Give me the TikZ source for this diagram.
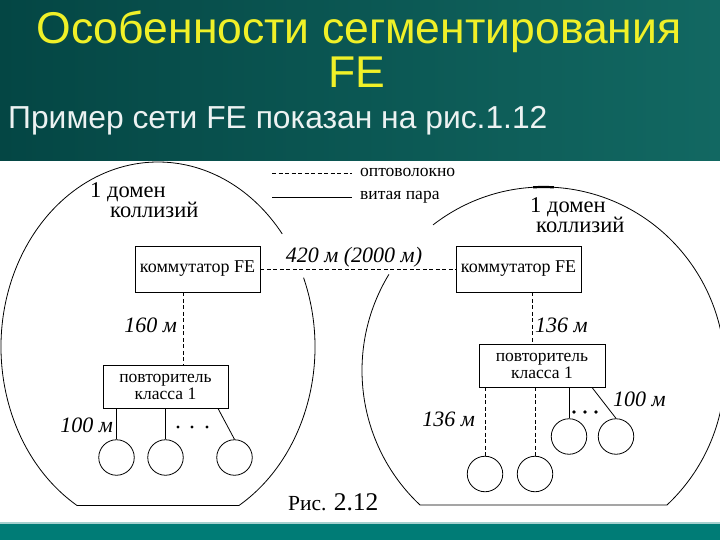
\documentclass[tikz,border=0pt]{standalone}
\usepackage{fontspec}
\setmainfont{Liberation Serif}
\newfontfamily\titlefont{Liberation Sans}
\usetikzlibrary{calc}
\definecolor{tealL}{RGB}{4,70,68}
\definecolor{tealR}{RGB}{18,104,98}
\definecolor{tealbot}{RGB}{0,124,118}
\definecolor{titleyel}{RGB}{240,240,40}
\definecolor{subwhite}{RGB}{236,242,242}
\tikzset{
  fiber/.style={dash pattern=on 4pt off 2.5pt, line width=0.8pt},
  wire/.style={line width=0.8pt},
  boxnode/.style={draw, line width=0.9pt, inner sep=0pt, font=\fontsize{18}{18}\selectfont},
  repnode/.style={boxnode, align=center, font=\fontsize{17.5}{17}\selectfont},
  station/.style={draw, circle, line width=0.8pt, minimum size=35.5pt, inner sep=0pt},
  domlabel/.style={inner sep=0pt, anchor=base west, font=\fontsize{22.5}{22.5}\selectfont},
  distlabel/.style={inner sep=0pt, font=\fontsize{22}{22}\selectfont\itshape},
  legtext/.style={inner sep=0pt, anchor=base west, font=\fontsize{17.5}{17.5}\selectfont},
}
\begin{document}
\begin{tikzpicture}[x=1pt,y=-1pt]
\useasboundingbox (0,0) rectangle (720,540);
\clip (0,0) rectangle (720,540);
% backgrounds
\shade[left color=tealL, right color=tealR] (0,0) rectangle (720,161);
\fill[white] (0,161) rectangle (720,522);
\fill[tealbot] (0,522) rectangle (720,540);
\fill[tealbot!35!white] (0,522) rectangle (720,524);
% titles
\node[inner sep=0pt, anchor=base, text=titleyel, font=\titlefont\fontsize{44.5}{44.5}\selectfont] (t1) at (359,44) {Особенности сегментирования};
\node[inner sep=0pt, anchor=base, text=titleyel, font=\titlefont\fontsize{44.5}{44.5}\selectfont] (t2) at (357,88) {FE};
\node[inner sep=0pt, anchor=base west, text=subwhite, font=\titlefont\fontsize{31.8}{31.8}\selectfont] (t3) at (8,129) {Пример сети FE показан на рис.1.12};
% diagram
\begin{scope}
\clip (0,161) rectangle (720,522);
% left domain
\draw[wire] (158,347) ++(-22:157 and 185) arc[start angle=-22, end angle=59, x radius=157, y radius=185]
  -- ($(158,347)+(121:157 and 185)$) arc[start angle=121, end angle=322.3, x radius=157, y radius=185];
% right domain
\draw[wire] (543.5,370.5) ++(232.5:181.5 and 183.5) arc[start angle=232.5, end angle=407.1, x radius=181.5, y radius=183.5]
  -- ($(543.5,370.5)+(132.9:181.5 and 183.5)$) arc[start angle=132.9, end angle=211.6, x radius=181.5, y radius=183.5];
\draw[line width=2.2pt] (543.5,370.5) ++(266.7:181.5 and 183.5) arc[start angle=266.7, end angle=273.3, x radius=181.5, y radius=183.5];
\end{scope}
% legend
\coordinate (fa) at (272,173); \coordinate (fb) at (352,173);
\coordinate (wa) at (272,197); \coordinate (wb) at (352,197);
\draw[fiber] (fa) -- (fb);
\draw[wire] (wa) -- (wb);
\node[legtext] (lf) at (360,177) {оптоволокно};
\node[legtext] (lw) at (360,200) {витая пара};
% domain labels
\node[domlabel] (d1a) at (90,198) {1 домен};
\node[domlabel] (d1b) at (110,218) {коллизий};
\node[domlabel] (d2a) at (530,212) {1 домен};
\node[domlabel] (d2b) at (536,233) {коллизий};
% switches and repeaters
\node[boxnode, minimum width=125pt, minimum height=46pt] (sw1) at (197.5,269) {коммутатор FE};
\node[boxnode, minimum width=125pt, minimum height=46pt] (sw2) at (518.5,269) {коммутатор FE};
\node[repnode, minimum width=125pt, minimum height=43pt] (rep1) at (165.5,386.5) {повторитель\\класса 1};
\node[repnode, minimum width=126pt, minimum height=43pt] (rep2) at (542,365.5) {повторитель\\класса 1};
% stations
\node[station] (c1) at (116.5,457.5) {};
\node[station] (c2) at (165.5,457.5) {};
\node[station] (c3) at (234.5,457.5) {};
\node[station] (e1) at (485,474) {};
\node[station] (e2) at (535,474) {};
\node[station] (e3) at (569,436.5) {};
\node[station] (e4) at (616,436.5) {};
% connectors
\draw[fiber] (sw1) -- (sw2);
\draw[fiber] ([xshift=-14.5pt]sw1.south) -- ([xshift=17.5pt]rep1.north);
\draw[fiber] ([xshift=13.5pt]sw2.south) -- ([xshift=-10pt]rep2.north);
\draw[wire] (c1.north |- rep1.south) -- (c1.north);
\draw[wire] (c2.north |- rep1.south) -- (c2.north);
\draw[wire] ([xshift=52.5pt]rep1.south) -- (c3.north);
\draw[fiber] (e1.north |- rep2.south) -- (e1.north);
\draw[fiber] (e2.north |- rep2.south) -- (e2.north);
\draw[wire] (e3.north |- rep2.south) -- (e3.north);
\draw[wire] ([xshift=50pt]rep2.south) -- (e4.north);
% dots
\foreach \xx in {178,192,207} \fill (\xx,427) circle (1.6);
\foreach \xx in {574,585,596} \fill (\xx,412) circle (1.9);
% distance labels
\node[distlabel, anchor=base] (l420) at (354,262) {420 м (2000 м)};
\node[distlabel, anchor=base east] (l160) at (177,332) {160 м};
\node[distlabel, anchor=base west] (l136a) at (535,332) {136 м};
\node[distlabel, anchor=base east] (l100a) at (113,432) {100 м};
\node[distlabel, anchor=base east] (l136b) at (475,426) {136 м};
\node[distlabel, anchor=base west] (l100b) at (613,406) {100 м};
% caption
\node[inner sep=0pt, anchor=base west] (cap) at (288,510) {\fontsize{21.5}{21.5}\selectfont Рис. \fontsize{25.5}{25.5}\selectfont 2.12};
\end{tikzpicture}
\end{document}
